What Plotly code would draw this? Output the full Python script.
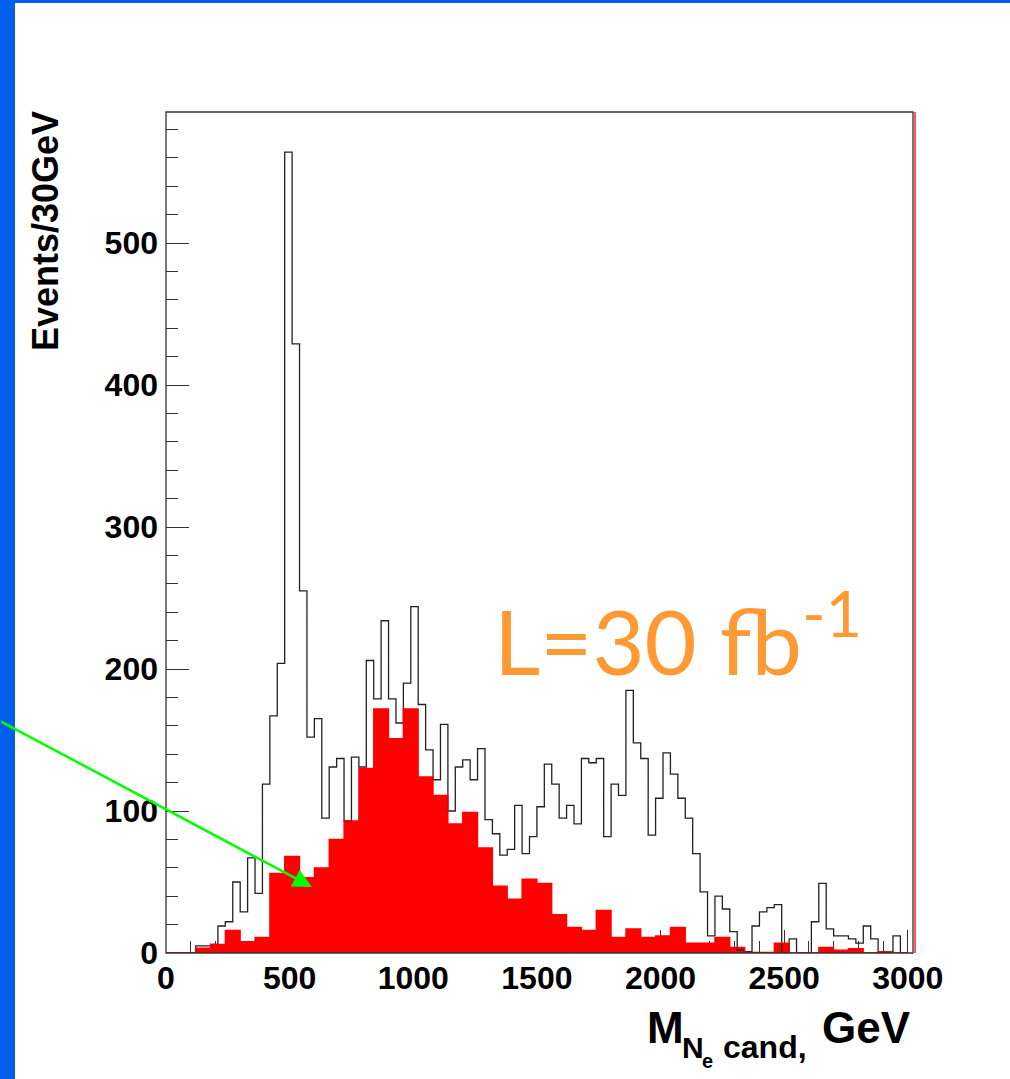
import plotly.graph_objects as go

# ---------------- data ----------------
# black histogram: 30 GeV bins from 0 to 3000 GeV
black_bin_width = 30
black_counts = [
    0, 0, 0, 0, 5, 5, 6, 19, 22, 50,
    29, 67, 42, 119, 167, 204, 564, 429, 255, 152,
    165, 95, 131, 137, 93, 138, 131, 206, 179, 234,
    179, 162, 190, 244, 175, 143, 122, 161, 100, 131,
    136, 122, 144, 94, 84, 69, 73, 104, 70, 82,
    103, 133, 119, 95, 104, 91, 137, 134, 137, 82,
    119, 111, 185, 148, 137, 83, 109, 141, 126, 109,
    95, 70, 43, 12, 40, 31, 15, 2, 1, 19,
    29, 32, 34, 0, 10, 0, 0, 22, 49, 17,
    12, 12, 10, 7, 19, 10, 0, 0, 12, 0,
]
# red (signal) histogram: 60 GeV bins from 0 to 3000 GeV
red_bin_width = 60
red_counts = [
    0, 0, 3.5, 6, 16, 8, 11, 56, 68, 53,
    60, 80, 93, 130, 172, 151, 172, 124, 111, 91,
    99, 74, 47, 38, 52, 49, 27, 18, 16, 30,
    11, 17, 11, 12, 18, 7, 7, 11, 4, 0.5,
    0.5, 7, 0, 0, 4, 2, 3, 0, 1, 0,
]
x_tick_vals = [0, 500, 1000, 1500, 2000, 2500, 3000]
y_tick_vals = [0, 100, 200, 300, 400, 500]
x_title = "GeV"
y_title = "Events/30GeV"
lumi_text = "L=30 fb<sup>-1</sup>"

# ---------------- geometry helpers ----------------
W, H = 1010, 1079
L, R, T, B = 166, 913, 112, 953


def px(xp):
    return (xp - L) / (R - L)


def py(yp):
    return (B - yp) / (B - T)


black_edges = [i * black_bin_width for i in range(len(black_counts) + 1)]
red_edges = [i * red_bin_width for i in range(len(red_counts) + 1)]
red_centers = [e + red_bin_width / 2 for e in red_edges[:-1]]

fig = go.Figure()

# black outline histogram
fig.add_trace(go.Scatter(
    x=black_edges, y=black_counts + [black_counts[-1]],
    mode="lines", line=dict(shape="hv", color="#222222", width=1.3),
    hoverinfo="skip", showlegend=False,
))
# red filled histogram
fig.add_trace(go.Bar(
    x=red_centers, y=red_counts, width=red_bin_width,
    marker=dict(color="#FF0000", line=dict(width=0)),
    hoverinfo="skip", showlegend=False,
))
fig.add_trace(go.Scatter(
    x=red_edges, y=red_counts + [red_counts[-1]],
    mode="lines", line=dict(shape="hv", color="#FF0000", width=1.3),
    hoverinfo="skip", showlegend=False,
))

tickfont = dict(family="Liberation Sans, Arial, sans-serif", size=32, color="#000000", weight="bold")

fig.update_xaxes(
    range=[0, 3021], tickmode="array", tickvals=x_tick_vals,
    ticks="inside", ticklen=23, tickwidth=1.2, tickcolor="#333333",
    minor=dict(dtick=100, tick0=0, ticks="inside", ticklen=12, tickwidth=1.2, tickcolor="#333333"),
    showgrid=False, zeroline=False, showline=False,
    tickfont=tickfont, layer="below traces", ticklabelstandoff=3,
)
fig.update_yaxes(
    range=[0, 592.3], tickmode="array", tickvals=y_tick_vals,
    ticks="inside", ticklen=23, tickwidth=1.2, tickcolor="#333333",
    minor=dict(dtick=20, tick0=0, ticks="inside", ticklen=12, tickwidth=1.2, tickcolor="#333333"),
    showgrid=False, zeroline=False, showline=False,
    tickfont=tickfont, layer="below traces", ticklabelstandoff=7,
)

shapes = [
    # plot frame
    dict(type="rect", xref="paper", yref="paper", x0=0, x1=1, y0=0, y1=1,
         line=dict(color="#333333", width=1.3), layer="above"),
    # red right edge line
    dict(type="line", xref="paper", yref="paper", x0=px(915), x1=px(915), y0=0, y1=1,
         line=dict(color="#FF0000", width=1.3), layer="above"),
    # slide blue bands
    dict(type="rect", xref="paper", yref="paper", x0=px(0), x1=px(15), y0=py(H), y1=py(0),
         fillcolor="#005FEA", line=dict(width=0), layer="below"),
    dict(type="rect", xref="paper", yref="paper", x0=px(0), x1=px(W), y0=py(3), y1=py(0),
         fillcolor="#005FEA", line=dict(width=0), layer="below"),
]

annotations = [
    # y axis title
    dict(xref="paper", yref="paper", x=px(46), y=py(231), text=y_title, textangle=-90,
         showarrow=False, xanchor="center", yanchor="middle",
         font=dict(family="Liberation Sans Narrow, Liberation Sans, Arial", size=36, color="#000000", weight="bold")),
    # x axis title pieces
    dict(xref="paper", yref="paper", x=px(645), y=py(1027), text="M",
         showarrow=False, xanchor="left", yanchor="middle",
         font=dict(family="Liberation Sans, Arial", size=44, color="#000000", weight="bold")),
    dict(xref="paper", yref="paper", x=px(680), y=py(1047), text="N",
         showarrow=False, xanchor="left", yanchor="middle",
         font=dict(family="Liberation Sans, Arial", size=30, color="#000000", weight="bold")),
    dict(xref="paper", yref="paper", x=px(700), y=py(1061), text="e",
         showarrow=False, xanchor="left", yanchor="middle",
         font=dict(family="Liberation Sans, Arial", size=20, color="#000000", weight="bold")),
    dict(xref="paper", yref="paper", x=px(721), y=py(1047), text="cand,",
         showarrow=False, xanchor="left", yanchor="middle",
         font=dict(family="Liberation Sans, Arial", size=32, color="#000000", weight="bold")),
    dict(xref="paper", yref="paper", x=px(913), y=py(1027), text=x_title,
         showarrow=False, xanchor="right", yanchor="middle",
         font=dict(family="Liberation Sans, Arial", size=44, color="#000000", weight="bold")),
    # luminosity label
    dict(xref="paper", yref="paper", x=px(492), y=py(634), text=lumi_text,
         showarrow=False, xanchor="left", yanchor="middle",
         font=dict(family="Lato, Noto Sans, sans-serif", size=90, color="#FF9933")),
    # green arrow
    dict(xref="x", yref="y", x=590, y=46.5, ax=-312, ay=-166, axref="pixel", ayref="pixel",
         text="", showarrow=True, arrowhead=2, arrowsize=1.5, arrowwidth=2.5,
         arrowcolor="#00FF00"),
]

fig.update_layout(
    width=W, height=H,
    margin=dict(l=L, r=W - R, t=T, b=H - B, pad=0),
    paper_bgcolor="#FFFFFF", plot_bgcolor="#FFFFFF",
    shapes=shapes, annotations=annotations,
    bargap=0, showlegend=False,
)

fig.write_html(
    "out.html",
    config={"displayModeBar": False},
    post_script="document.body.style.margin='0px';document.body.style.overflow='hidden';",
)
